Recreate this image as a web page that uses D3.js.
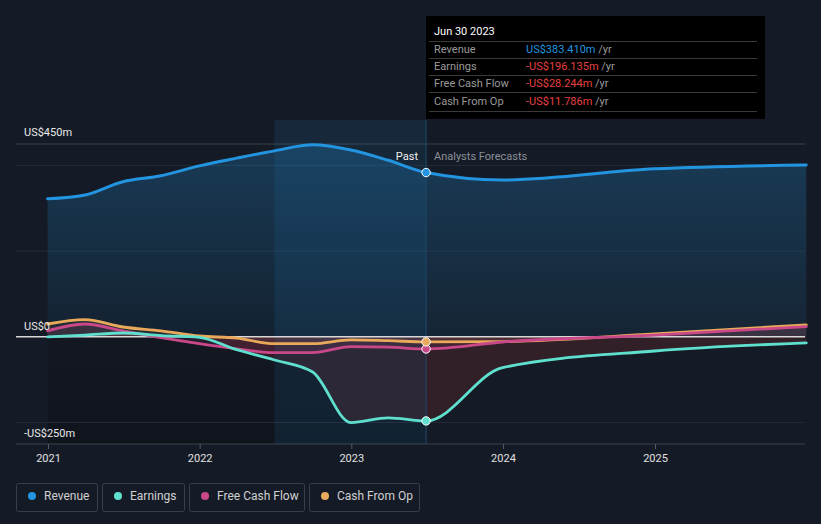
<!DOCTYPE html>
<html><head><meta charset="utf-8">
<script src="https://cdn.jsdelivr.net/npm/d3@7/dist/d3.min.js"></script>
<style>
html,body{margin:0;padding:0;background:#151b26;}
svg{display:block;font-family:Roboto,"Open Sans",sans-serif;}
</style></head>
<body><svg id="c" width="821" height="524"></svg>
<script>
const dates = ["2020-12-31","2021-03-31","2021-06-30","2021-09-30","2021-12-31","2022-03-31","2022-06-30","2022-09-30","2022-12-31","2023-03-31","2023-06-30","2023-12-31","2024-12-31","2025-12-31"];
const revenue  = [322, 331, 362, 376, 399, 417, 434, 448, 436, 412, 383.41, 366, 392, 401];
const earnings = [0, 4, 9, 3, -1, -30, -54, -82, -200, -189, -196.135, -72, -33, -14];
const fcf      = [14, 30, 14, -2, -16, -28, -37, -37, -23, -24, -28.244, -12, 4, 24];
const cfo      = [30, 40, 23, 14, 2, -3, -16, -16, -7, -9, -11.786, -11, 7, 28];
const yTicks = [450, 0, -250];
const yTickLabels = ["US$450m", "US$0", "-US$250m"];
const gridVals = [400, 200, -200];
const xTicks = ["2021-01-01","2022-01-01","2023-01-01","2024-01-01","2025-01-01"];
const xTickLabels = ["2021","2022","2023","2024","2025"];
const nowDate = "2023-06-30";
const bandStart = "2022-06-30";
const seriesNames = ["Revenue","Earnings","Free Cash Flow","Cash From Op"];
const seriesColors = ["#2394df","#5fe0cf","#c9488a","#e8a95a"];
const tipTitle = "Jun 30 2023";
const tipValues = ["US$383.410m","-US$196.135m","-US$28.244m","-US$11.786m"];

const P = d3.timeParse("%Y-%m-%d");
const svg = d3.select("#c");
const x = d3.scaleTime().domain([P("2021-01-01"), P("2025-01-01")]).range([48, 655]);
const y = d3.scaleLinear().domain([-250, 450]).range([444, 144]);
const left = 16, right = 805;
const dataStart = x(P(dates[0]));
const xNow = x(P(nowDate)), xBand = x(P(bandStart));

const defs = svg.append("defs");
const g1 = defs.append("linearGradient").attr("id","revg").attr("x1",0).attr("y1",0).attr("x2",0).attr("y2",1);
g1.append("stop").attr("offset","0%").attr("stop-color","#2394df").attr("stop-opacity",0.26);
g1.append("stop").attr("offset","100%").attr("stop-color","#2394df").attr("stop-opacity",0.08);
const g2 = defs.append("linearGradient").attr("id","pastg").attr("x1",0).attr("y1",0).attr("x2",0).attr("y2",1);
g2.append("stop").attr("offset","0%").attr("stop-color","#000").attr("stop-opacity",0);
g2.append("stop").attr("offset","55%").attr("stop-color","#000").attr("stop-opacity",0.1);
g2.append("stop").attr("offset","100%").attr("stop-color","#000").attr("stop-opacity",0.25);

// past region darker
svg.append("rect").attr("x",dataStart).attr("y",120).attr("width",xNow-dataStart).attr("height",444-120).attr("fill","url(#pastg)");
// gridlines
svg.selectAll(".grid").data(gridVals).enter().append("line")
  .attr("x1",left).attr("x2",right).attr("y1",d=>y(d)).attr("y2",d=>y(d))
  .attr("stroke","#232b38").attr("stroke-width",1);
svg.append("line").attr("x1",left).attr("x2",right).attr("y1",y(450)).attr("y2",y(450)).attr("stroke","#3c424d");
svg.append("line").attr("x1",left).attr("x2",right).attr("y1",y(-250)).attr("y2",y(-250)).attr("stroke","#3c424d");

const data = dates.map((d,i)=>({d:P(d), rev:revenue[i], ear:earnings[i], fcf:fcf[i], cfo:cfo[i]}));
const curve = d3.curveMonotoneX;
const area = k => d3.area().x(d=>x(d.d)).y0(y(0)).y1(d=>y(d[k])).curve(curve);
const line = k => d3.line().x(d=>x(d.d)).y(d=>y(d[k])).curve(curve);

svg.append("path").datum(data).attr("d",area("rev")).attr("fill","url(#revg)");
svg.append("path").datum(data).attr("d",area("ear")).attr("fill","#e64141").attr("opacity",0.14);
svg.append("path").datum(data).attr("d",area("fcf")).attr("fill","#c9488a").attr("opacity",0.12);
svg.append("path").datum(data).attr("d",area("cfo")).attr("fill","#e8a95a").attr("opacity",0.08);

// last 12 months band
svg.append("rect").attr("x",xBand).attr("y",120).attr("width",xNow-xBand).attr("height",444-120).attr("fill","#2394df").attr("opacity",0.11);
svg.append("line").attr("x1",xNow).attr("x2",xNow).attr("y1",120).attr("y2",444).attr("stroke","#1f4a6b").attr("stroke-width",1);

// zero line
svg.append("line").attr("x1",left).attr("x2",right).attr("y1",y(0)).attr("y2",y(0)).attr("stroke","#d8d8d8").attr("stroke-width",1.5);

const keys = ["rev","ear","fcf","cfo"];
[3,2,1,0].forEach(i=>{
  svg.append("path").datum(data).attr("d",line(keys[i])).attr("fill","none")
    .attr("stroke",seriesColors[i]).attr("stroke-width",i===0?3:2.8).attr("stroke-linecap","round");
});
const nowRow = data[dates.indexOf(nowDate)];
[0,1,2,3].forEach(i=>{
  svg.append("circle").attr("cx",x(nowRow.d)).attr("cy",y(nowRow[keys[i]])).attr("r",4.2)
    .attr("fill",seriesColors[i]).attr("stroke","#fff").attr("stroke-width",1);
});

// axes labels
svg.selectAll(".yl").data(yTicks).enter().append("text")
  .attr("x",24).attr("y",(d,i)=>[136,330,437][i]).attr("fill","#e8e8e8").attr("font-size",11).text((d,i)=>yTickLabels[i]);
const xa = svg.append("g").attr("transform","translate(0,444)")
  .call(d3.axisBottom(x).tickValues(xTicks.map(P)).tickFormat((d,i)=>xTickLabels[i]).tickSize(5).tickPadding(5));
xa.select(".domain").remove();
xa.selectAll("line").attr("stroke","#555b66");
xa.selectAll("text").attr("fill","#e0e0e0").attr("font-size",11).attr("font-family","Roboto,sans-serif");

svg.append("text").attr("x",418).attr("y",160).attr("text-anchor","end").attr("fill","#f0f0f0").attr("font-size",11).text("Past");
svg.append("text").attr("x",434).attr("y",160).attr("fill","#8a8f98").attr("font-size",11).text("Analysts Forecasts");

// tooltip
const tip = svg.append("g");
tip.append("rect").attr("x",426).attr("y",16).attr("width",339).attr("height",103).attr("fill","#000");
tip.append("text").attr("x",434).attr("y",35).attr("fill","#fff").attr("font-size",11).text(tipTitle);
[41.5,58.5,75.5,92.5,111.5].forEach(v=>tip.append("line").attr("x1",429).attr("x2",757).attr("y1",v).attr("y2",v).attr("stroke","#3a3a3a"));
seriesNames.forEach((n,i)=>{
  const by = 53 + i*17.2;
  tip.append("text").attr("x",434).attr("y",by).attr("fill","#9a9a9a").attr("font-size",11).text(n);
  const t = tip.append("text").attr("x",526).attr("y",by).attr("font-size",11);
  t.append("tspan").attr("fill",i===0?"#2394df":"#e64141").text(tipValues[i]);
  t.append("tspan").attr("fill","#9a9a9a").text(" /yr");
});

// legend
const lx = [16,102,189,309], lw = [81,82,115,110];
seriesNames.forEach((n,i)=>{
  const g = svg.append("g");
  g.append("rect").attr("x",lx[i]+0.5).attr("y",483.5).attr("width",lw[i]).attr("height",28).attr("rx",2)
    .attr("fill","#151b26").attr("stroke","#3a404b");
  g.append("circle").attr("cx",lx[i]+16).attr("cy",496).attr("r",4).attr("fill",seriesColors[i]);
  g.append("text").attr("x",lx[i]+28).attr("y",500).attr("fill","#d0d0d0").attr("font-size",12).text(n);
});
</script></body></html>
